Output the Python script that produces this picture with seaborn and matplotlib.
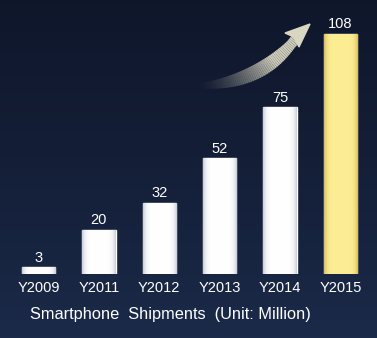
import numpy as np
import pandas as pd
import matplotlib
matplotlib.use("Agg")
import matplotlib.pyplot as plt
import seaborn as sns
from matplotlib.patches import Polygon

years = ["Y2009", "Y2011", "Y2012", "Y2013", "Y2014", "Y2015"]
shipments = [3, 20, 32, 52, 75, 108]
title = "Smartphone  Shipments  (Unit: Million)"

sns.set_theme(style="white")
plt.rcParams['font.family'] = ['Liberation Sans', 'DejaVu Sans']

W, H = 377, 338
fig = plt.figure(figsize=(W / 100, H / 100), dpi=100)

# background gradient
bg = fig.add_axes([0, 0, 1, 1], zorder=0)
yy = np.linspace(0, 1, 200)[:, None]
xx = np.linspace(0, 1, 200)[None, :]
top = np.array([0.060, 0.090, 0.170])
bot = np.array([0.105, 0.165, 0.285])
t = (yy ** 1.2) * np.ones_like(xx)
img = top[None, None, :] * (1 - t[..., None]) + bot[None, None, :] * t[..., None]
bg.imshow(img, aspect="auto", extent=[0, 1, 0, 1], origin="upper")
bg.set_xlim(0, 1); bg.set_ylim(0, 1)
bg.axis("off")

# main axes
left = 8.3 / W
width = 362.4 / W
bottom = 64 / H
height = 274 / H
ax = fig.add_axes([left, bottom, width, height], zorder=1)
ax.set_facecolor("none")

df = pd.DataFrame({"year": years, "value": shipments})
palette = ["#ffffff"] * 5 + ["#f8e78a"]
sns.barplot(data=df, x="year", y="value", hue="year", palette=palette,
            legend=False, width=0.55, ax=ax, saturation=1)
ax.set_xlim(-0.5, 5.5)
ax.set_ylim(0, 274 / 240 * 108)

# gradient fill on bars
for i, p in enumerate(ax.patches):
    x0, y0 = p.get_x(), p.get_y()
    w, h = p.get_width(), p.get_height()
    g = np.linspace(-1, 1, 100)
    prof = 1 - np.abs(g) ** 6
    if i == len(ax.patches) - 1:
        c_mid = np.array([0.99, 0.93, 0.58]); c_edge = np.array([0.84, 0.74, 0.36])
    else:
        c_mid = np.array([1.0, 1.0, 1.0]); c_edge = np.array([0.78, 0.80, 0.84])
    col = c_edge[None, :] * (1 - prof[:, None]) + c_mid[None, :] * prof[:, None]
    im = ax.imshow(col[None, :, :], extent=[x0, x0 + w, y0, y0 + h],
                   aspect="auto", zorder=2, interpolation="bilinear")
    im.set_clip_path(p)
ax.set_xlim(-0.5, 5.5)
ax.set_ylim(0, 274 / 240 * 108)

for c in ax.containers:
    ax.bar_label(c, padding=2, color="white", fontsize=10.5)

ax.tick_params(axis="x", length=0, pad=5, labelsize=10.5, labelcolor="white")
ax.set_yticks([])
ax.set_ylabel("")
ax.set_xlabel("")
for s in ax.spines.values():
    s.set_visible(False)

fig.text(170 / W, 1 - 315 / H, title, color="white", fontsize=11.8,
         ha="center", va="center")

# decorative curved arrow (figure pixel coords, y from top)
def P(x, y):
    return (x / W, 1 - y / H)

t_ = np.linspace(0, 1, 60)
p0 = np.array([196, 86.0]); p1 = np.array([262, 84.0]); p2 = np.array([297, 37.0])
curve = ((1 - t_)[:, None] ** 2) * p0 + (2 * (1 - t_) * t_)[:, None] * p1 + (t_[:, None] ** 2) * p2
for k in range(len(t_) - 1):
    a = min(1.0, (t_[k] / 0.7)) ** 1.5
    lw = 3.5 + 7 * np.sin(np.pi * min(t_[k], 0.9) / 1.1)
    col = (0.85, 0.84, 0.76)
    xs = [curve[k][0] / W, curve[k + 1][0] / W]
    ys = [1 - curve[k][1] / H, 1 - curve[k + 1][1] / H]
    bg.plot(xs, ys, color=col, alpha=a * 0.95, lw=lw, solid_capstyle="butt", zorder=3)
head = Polygon([P(310, 24), P(285, 33), P(294, 37), P(299, 47)], closed=True,
               transform=fig.transFigure, color=(0.85, 0.84, 0.76), zorder=4)
bg.add_patch(head)

fig.savefig("out.png", dpi=100)
